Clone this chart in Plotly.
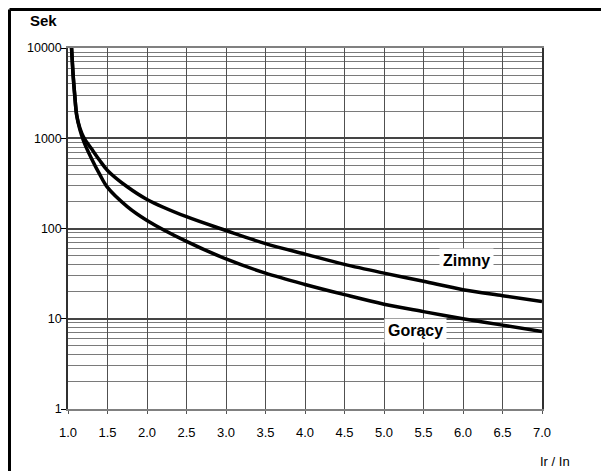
import plotly.graph_objects as go

# Data
current_ratio = [1.045, 1.065, 1.085, 1.11, 1.15, 1.2, 1.3, 1.4, 1.5, 1.75, 2.0, 2.5, 3.0, 3.5, 4.0, 4.5, 5.0, 5.5, 6.0, 6.5, 7.0]
zimny = [10000, 5000, 3000, 1800, 1300, 1020, 760, 570, 440, 290, 210, 135, 95, 68, 52, 40, 32, 26, 21, 18, 15.5]
goracy = [10000, 5000, 3000, 1800, 1250, 920, 590, 400, 285, 175, 123, 72, 46, 32, 24, 18.5, 14.5, 12, 10, 8.5, 7.2]

x_ticks = [1.0, 1.5, 2.0, 2.5, 3.0, 3.5, 4.0, 4.5, 5.0, 5.5, 6.0, 6.5, 7.0]
x_tick_text = ["1.0", "1.5", "2.0", "2.5", "3.0", "3.5", "4.0", "4.5", "5.0", "5.5", "6.0", "6.5", "7.0"]
y_ticks = [1, 10, 100, 1000, 10000]
y_tick_text = ["1", "10", "100", "1000", "10000"]

FONT = "Liberation Sans, Arial, sans-serif"

# The page shows the figure offset by the default 8px body margin
W, H = 601, 463
L, T, R, B = 60, 40, 67, 62
PW, PH = W - L - R, H - T - B


def px(X):  # window pixel -> paper x
    return (X - 8 - L) / PW


def py(Y):  # window pixel -> paper y
    return 1 - (Y - 8 - T) / PH


fig = go.Figure()
for name, vals in [("Zimny", zimny), ("Gorący", goracy)]:
    fig.add_trace(go.Scatter(
        x=current_ratio, y=vals, mode="lines", name=name,
        line=dict(color="black", width=3.5, shape="spline", smoothing=0.9),
        showlegend=False, hoverinfo="x+y+name",
    ))

fig.update_layout(
    width=W, height=H,
    margin=dict(l=L, r=R, t=T, b=B),
    paper_bgcolor="white", plot_bgcolor="white",
    font=dict(family=FONT, color="black", size=12),
    xaxis=dict(
        range=[1.0, 7.0], tickvals=x_ticks, ticktext=x_tick_text,
        showgrid=True, gridcolor="#505050", gridwidth=1.2,
        showline=True, linecolor="#808080", linewidth=1.5, mirror=True,
        ticks="outside", ticklen=3, tickcolor="#555",
        ticklabelstandoff=8,
        tickfont=dict(size=13, family=FONT), zeroline=False,
    ),
    yaxis=dict(
        type="log", range=[0, 4], tickvals=y_ticks, ticktext=y_tick_text,
        showgrid=True, gridcolor="#444", gridwidth=1.5,
        minor=dict(tickvals=[m * 10 ** e for e in range(4) for m in range(2, 10)],
                   showgrid=True, gridcolor="#7a7a7a", gridwidth=1.3, ticks=""),
        showline=True, linecolor="#303030", linewidth=1.5, mirror=True,
        ticks="outside", ticklen=5, tickcolor="black",
        ticklabelstandoff=-3,
        tickfont=dict(size=12.5, family=FONT), zeroline=False,
    ),
    annotations=[
        dict(text="<b>Zimny</b>", x=6.05, y=1.644, xref="x", yref="y",
             showarrow=False, bgcolor="white", borderpad=3,
             font=dict(size=16, family=FONT, color="black")),
        dict(text="<b>Gorący</b>", x=5.4, y=0.867, xref="x", yref="y",
             showarrow=False, bgcolor="white", borderpad=3,
             font=dict(size=16, family=FONT, color="black")),
        dict(text="<b>Sek</b>", x=px(43), y=py(20), xref="paper", yref="paper",
             xanchor="center", yanchor="middle",
             showarrow=False, font=dict(size=15, family=FONT, color="black")),
        dict(text="Ir / In", x=px(555), y=py(461), xref="paper", yref="paper",
             xanchor="center", yanchor="middle",
             showarrow=False, font=dict(size=13, family=FONT, color="black")),
    ],
    shapes=[
        dict(type="line", xref="paper", yref="paper",
             x0=-(L - 1.5) / PW, x1=2, y0=1 + (T - 1.5) / PH, y1=1 + (T - 1.5) / PH,
             line=dict(color="black", width=3)),
        dict(type="line", xref="paper", yref="paper",
             x0=-(L - 1.5) / PW, x1=-(L - 1.5) / PW, y0=-2, y1=1 + (T - 1.5) / PH,
             line=dict(color="black", width=3)),
    ],
)

fig.write_html("out.html")
